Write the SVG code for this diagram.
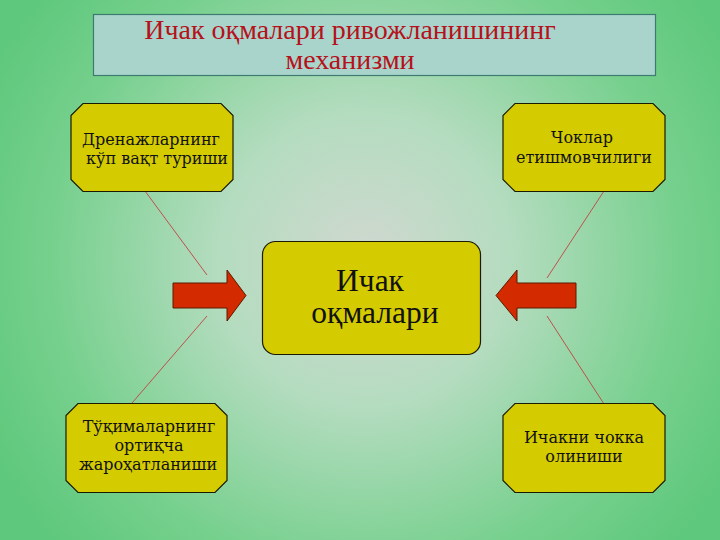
<svg xmlns="http://www.w3.org/2000/svg" width="720" height="540" viewBox="0 0 720 540">
<defs>
<radialGradient id="bg" cx="365" cy="260" r="420" gradientUnits="userSpaceOnUse">
<stop offset="0" stop-color="#d0d8d0"/>
<stop offset="0.35" stop-color="#b4dcbf"/>
<stop offset="0.75" stop-color="#76d08d"/>
<stop offset="1" stop-color="#5ec87c"/>
</radialGradient>
<style>
.box{fill:#d4cc00;stroke:#1a1a00;stroke-width:1.2}
.t{font-family:"DejaVu Serif","Liberation Serif",serif;fill:#111;text-anchor:middle}
.tt{font-family:"Liberation Serif","DejaVu Serif",serif;text-anchor:middle}
.s{font-size:16px}
.arrow{fill:#d42a00;stroke:#5a1a00;stroke-width:1}
.link{stroke:#c0504d;stroke-width:1;fill:none}
</style>
</defs>
<rect width="720" height="540" fill="url(#bg)"/>
<g id="title">
<rect x="93.5" y="14.5" width="562" height="61" fill="#a9d4cc" stroke="#3d7a70" stroke-width="1.2"/>
<text class="tt" x="350" y="38.5" font-size="28" fill="#b5121b">Ичак оқмалари ривожланишининг</text>
<text class="tt" x="350" y="68.5" font-size="28" fill="#b5121b">механизми</text>
</g>
<g id="connectors">
<line class="link" x1="145" y1="191" x2="207" y2="275"/>
<line class="link" x1="207" y1="316" x2="132" y2="403"/>
<line class="link" x1="604" y1="191" x2="547" y2="278"/>
<line class="link" x1="547" y1="316" x2="604" y2="404"/>
<polygon class="arrow" points="173,283 227,283 227,270 246,295.5 227,321 227,308 173,308"/>
<polygon class="arrow" points="576,283 517,283 517,270 496,295.5 517,321 517,308 576,308"/>
</g>
<g id="center">
<rect class="box" x="262.5" y="241.5" width="218" height="113" rx="13"/>
<text class="tt" x="370" y="291" font-size="31.5" fill="#111">Ичак</text>
<text class="tt" x="375" y="323" font-size="31.5" fill="#111">оқмалари</text>
</g>
<g id="n1">
<polygon class="box" points="83,103.5 221,103.5 233,115.5 233,179.5 221,191.5 83,191.5 71,179.5 71,115.5"/>
<text class="t s" x="151" y="145">Дренажларнинг</text>
<text class="t s" x="157" y="164">кўп вақт туриши</text>
</g>
<g id="n2">
<polygon class="box" points="515,103.5 653,103.5 665,115.5 665,179.5 653,191.5 515,191.5 503,179.5 503,115.5"/>
<text class="t s" x="582" y="143">Чоклар</text>
<text class="t s" x="584" y="163">етишмовчилиги</text>
</g>
<g id="n3">
<polygon class="box" points="78,403.5 215,403.5 227,415.5 227,480.5 215,492.5 78,492.5 66,480.5 66,415.5"/>
<text class="t s" x="149" y="432">Тўқималарнинг</text>
<text class="t s" x="149" y="451">ортиқча</text>
<text class="t s" x="148" y="470">жароҳатланиши</text>
</g>
<g id="n4">
<polygon class="box" points="515,403.5 653,403.5 665,415.5 665,480.5 653,492.5 515,492.5 503,480.5 503,415.5"/>
<text class="t s" x="584" y="443">Ичакни чокка</text>
<text class="t s" x="584" y="462">олиниши</text>
</g>
</svg>
